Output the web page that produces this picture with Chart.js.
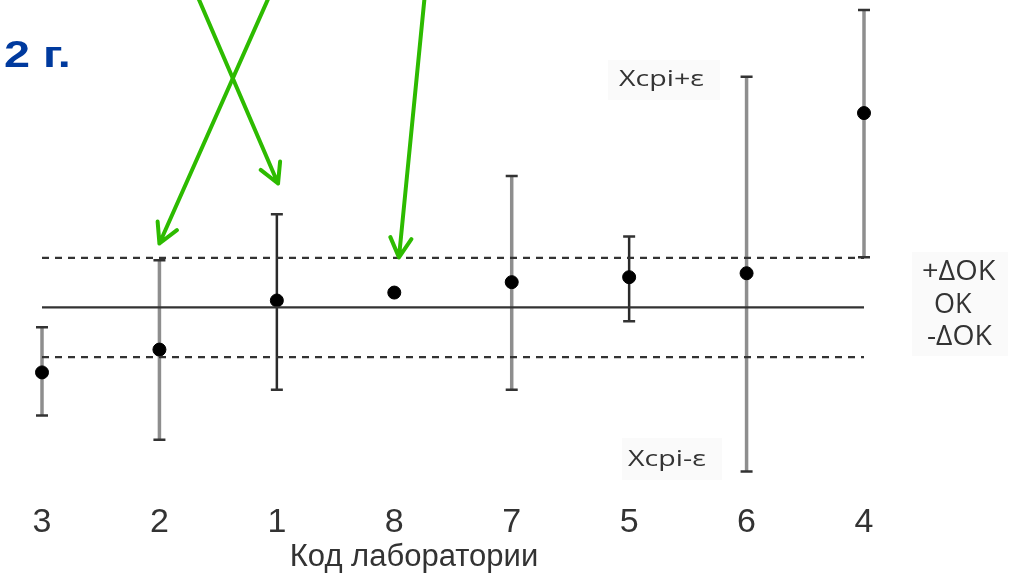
<!DOCTYPE html>
<html>
<head>
<meta charset="utf-8">
<script src="https://cdn.jsdelivr.net/npm/chart.js@4.4.0/dist/chart.umd.min.js"></script>
<style>
  html, body { margin: 0; background: #fff; }
  #wrap { width: 1010px; height: 577px; }
</style>
</head>
<body>
<div id="wrap"><canvas id="chart" width="1010" height="577"></canvas></div>
<script>
// Lab codes in the order they are plotted
const labs = ['3', '2', '1', '8', '7', '5', '6', '4'];
// Results, in units of ΔOK relative to OK
const results = [-1.31, -0.85, 0.14, 0.30, 0.51, 0.61, 0.69, 3.92];
// Error bar ends (Xcpi ± ε), null = no bar
const upper = [-0.40, 0.95, 1.88, null, 2.65, 1.43, 4.65, 6.00];
const lower = [-2.18, -2.67, -1.66, null, -1.66, -0.28, -3.31, 1.01];
// Reference levels: +ΔOK, OK, -ΔOK
const refLevels = [1, 0, -1];
const refLabels = ['+ΔOK', 'OK', '-ΔOK'];
const axisTitle = 'Код лаборатории';

// Green arrows: [from lab index, from y, to lab index, to y]
const arrows = [
  [1.94, 6.3, 1.00, 1.29],
  [1.32, 6.3, 2.01, 2.50],
  [3.26, 6.3, 3.04, 1.01]
];

const darkBarLabs = ['1', '5'];

const errorBars = {
  id: 'errorBars',
  beforeDatasetsDraw(chart) {
    const { ctx, scales: { x, y } } = chart;
    ctx.save();
    labs.forEach((lab, i) => {
      if (upper[i] == null) return;
      const px = x.getPixelForValue(i);
      const top = y.getPixelForValue(upper[i]);
      const bot = y.getPixelForValue(lower[i]);
      const dark = darkBarLabs.includes(lab);
      ctx.strokeStyle = dark ? '#2a2a2a' : '#8e8e8e';
      ctx.lineWidth = dark ? 2.5 : 3.5;
      ctx.beginPath();
      ctx.moveTo(px, top);
      ctx.lineTo(px, bot);
      ctx.stroke();
      ctx.strokeStyle = '#333';
      ctx.lineWidth = 2.5;
      ctx.beginPath();
      ctx.moveTo(px - 6, top); ctx.lineTo(px + 6, top);
      ctx.moveTo(px - 6, bot); ctx.lineTo(px + 6, bot);
      ctx.stroke();
    });
    ctx.restore();
  }
};

function stretchedText(ctx, text, x, y, sx) {
  ctx.save();
  ctx.translate(x, y);
  ctx.scale(sx, 1);
  ctx.fillText(text, 0, 0);
  ctx.restore();
}

const annotations = {
  id: 'annotations',
  afterDraw(chart) {
    const { ctx, scales: { x, y } } = chart;
    ctx.save();

    // faint boxes behind labels
    ctx.fillStyle = '#fafafa';
    ctx.fillRect(608, 60, 112, 40);
    ctx.fillRect(622, 438, 100, 42);
    ctx.fillRect(912, 252, 96, 104);

    // title fragment
    ctx.fillStyle = '#003a9e';
    ctx.font = 'bold 36px "Liberation Sans", Arial, sans-serif';
    ctx.textBaseline = 'alphabetic';
    stretchedText(ctx, '2 г.', 4, 67, 1.3);

    // x axis title (sits left of the plot centre in the original)
    ctx.fillStyle = '#333';
    ctx.font = '31px "Liberation Sans", Arial, sans-serif';
    ctx.textAlign = 'center';
    ctx.fillText(axisTitle, 414, 566);

    // right labels
    ctx.font = '27px "Open Sans", sans-serif';
    ctx.textBaseline = 'middle';
    ctx.textAlign = 'left';
    stretchedText(ctx, refLabels[0], 922, 272, 1.07);
    stretchedText(ctx, refLabels[1], 934, 305, 1.0);
    stretchedText(ctx, refLabels[2], 927, 337, 1.05);

    ctx.font = '22px "Open Sans", sans-serif';
    stretchedText(ctx, 'Xcpi+ε', 619, 80, 1.3);
    stretchedText(ctx, 'Xcpi-ε', 628, 460, 1.3);

    // arrows
    ctx.strokeStyle = '#2dbb00';
    ctx.lineWidth = 4;
    ctx.lineCap = 'round';
    ctx.lineJoin = 'round';
    arrows.forEach(([fx, fy, tx, ty]) => {
      const x0 = x.getPixelForValue(fx), y0 = y.getPixelForValue(fy);
      const x1 = x.getPixelForValue(tx), y1 = y.getPixelForValue(ty);
      const ang = Math.atan2(y0 - y1, x0 - x1);
      ctx.beginPath();
      ctx.moveTo(x0, y0);
      ctx.lineTo(x1, y1);
      ctx.moveTo(x1 + 22 * Math.cos(ang - 0.5), y1 + 22 * Math.sin(ang - 0.5));
      ctx.lineTo(x1, y1);
      ctx.lineTo(x1 + 22 * Math.cos(ang + 0.5), y1 + 22 * Math.sin(ang + 0.5));
      ctx.stroke();
    });
    ctx.restore();
  }
};

const refLine = (level, dash) => ({
  type: 'line',
  data: [{ x: 0, y: level }, { x: labs.length - 1, y: level }],
  borderColor: '#333',
  borderWidth: 2.2,
  borderDash: dash,
  pointRadius: 0,
  clip: false
});

new Chart(document.getElementById('chart'), {
  type: 'scatter',
  data: {
    datasets: [
      refLine(refLevels[0], [7, 6]),
      refLine(refLevels[1], []),
      refLine(refLevels[2], [7, 6]),
      {
        type: 'scatter',
        data: results.map((v, i) => ({ x: i, y: v })),
        backgroundColor: '#000',
        borderColor: '#000',
        pointRadius: 6.5,
        clip: false
      }
    ]
  },
  options: {
    responsive: false,
    animation: false,
    layout: { autoPadding: false, padding: { left: 42, right: 146, top: 0, bottom: 20 } },
    plugins: { legend: { display: false }, tooltip: { enabled: false } },
    scales: {
      x: {
        type: 'linear',
        min: 0,
        max: labs.length - 1,
        grid: { display: false },
        border: { display: false },
        ticks: {
          stepSize: 1,
          autoSkip: false,
          maxRotation: 0,
          padding: 17,
          color: '#333',
          font: { family: '"Liberation Sans", Arial, sans-serif', size: 34, lineHeight: 1 },
          callback: v => labs[v]
        }
      },
      y: {
        display: false,
        min: -3.5,
        max: 6.2
      }
    }
  },
  plugins: [errorBars, annotations]
});
</script>
</body>
</html>
